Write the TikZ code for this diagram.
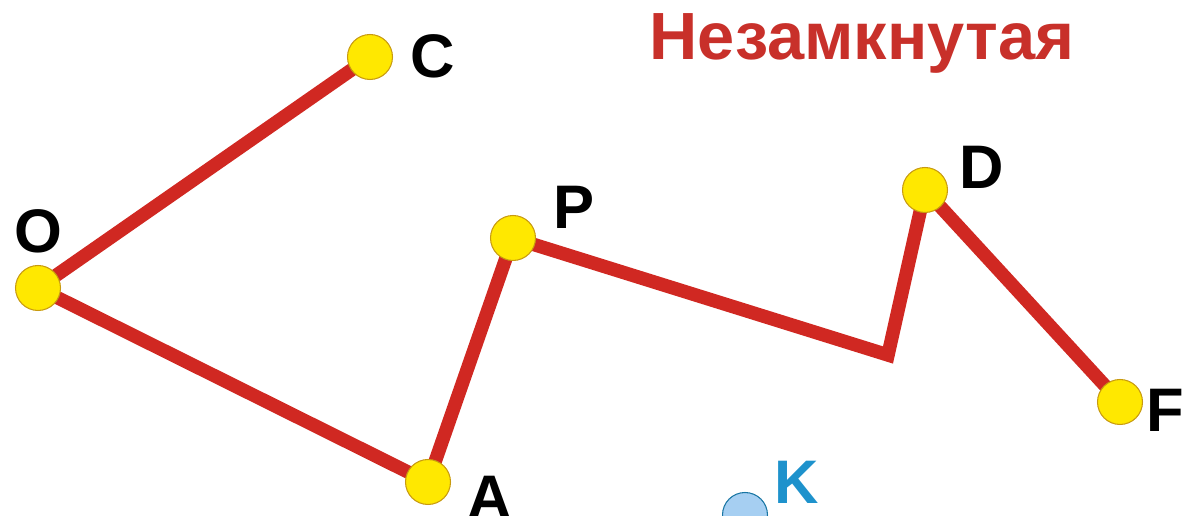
\documentclass[tikz,border=0pt]{standalone}
\usepackage{fontspec}
\setmainfont{Liberation Sans}
\usepackage{xcolor}
\usetikzlibrary{positioning,backgrounds}

\definecolor{linered}{HTML}{D02822}
\definecolor{titlered}{HTML}{C8302A}
\definecolor{dotyellow}{HTML}{FFE800}
\definecolor{dotedge}{HTML}{C89A10}
\definecolor{kblue}{HTML}{1E92CC}
\definecolor{kfill}{HTML}{A6CFF2}

\begin{document}
\begin{tikzpicture}[
    x=0.02cm, y=-0.02cm,
    dot/.style={circle, draw=dotedge, fill=dotyellow, line width=0.6pt, minimum size=0.9cm, inner sep=0pt},
    lbl/.style={font=\fontsize{35}{35}\selectfont\bfseries},
    seg/.style={draw=linered, line width=0.27cm, line join=miter},
]
\useasboundingbox (0,0) rectangle (1188,516);
\clip (0,0) rectangle (1188,516);

% vertices
\node[dot] (O) at (38,288) {};
\node[dot] (C) at (370,57) {};
\node[dot] (A) at (428,482) {};
\node[dot] (P) at (513,238) {};
\coordinate (B) at (888,355);
\node[dot] (D) at (925,190) {};
\node[dot] (F) at (1120,402) {};

% broken line
\begin{pgfonlayer}{background}
\draw[seg] (C.center) -- (O.center) -- (A.center) -- (P.center) -- (B) -- (D.center) -- (F.center);
\end{pgfonlayer}

% other point
\node[circle, draw=kblue!80!black, fill=kfill, line width=0.6pt, minimum size=0.9cm, inner sep=0pt] (K) at (745,515) {};

% labels
\node[lbl] (lO) at (38,231) {O};
\node[lbl] (lC) at (433,56) {C};
\node[lbl] (lP) at (574,207) {P};
\node[lbl] (lD) at (982,167) {D};
\node[lbl] (lA) at (490,497) {A};
\node[lbl] (lF) at (1165,410) {F};
\node[lbl, text=kblue] (lK) at (797,482) {K};

\node[font=\fontsize{38}{38}\selectfont\bfseries, text=titlered] (title) at (862,43) {Незамкнутая};
\end{tikzpicture}
\end{document}
